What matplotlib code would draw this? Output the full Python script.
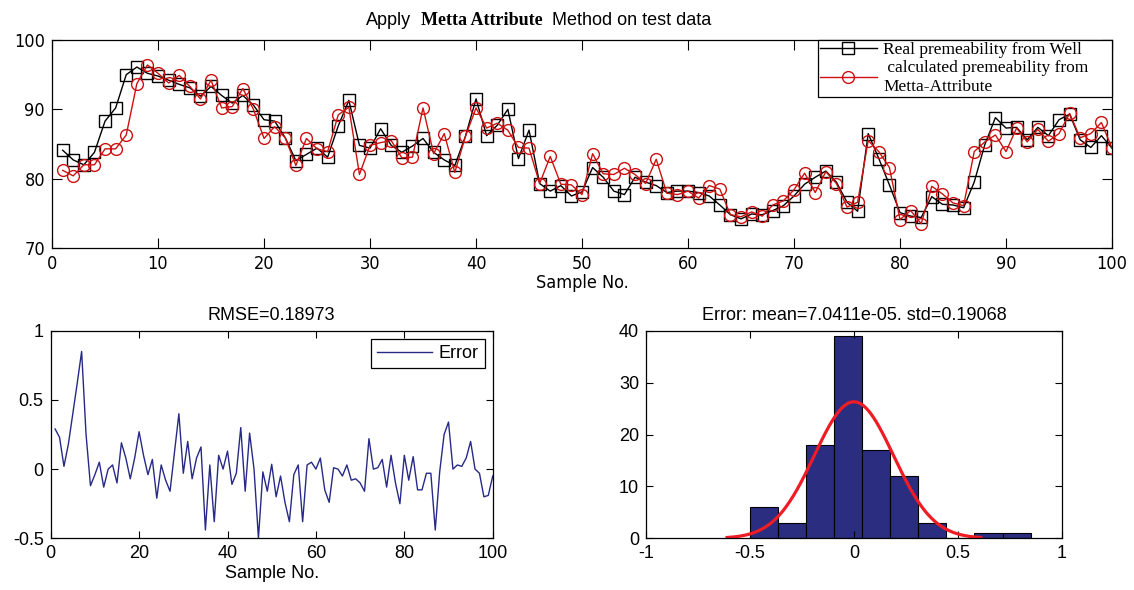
import numpy as np
import matplotlib.pyplot as plt
from matplotlib import font_manager

plt.rcParams['font.family'] = ['Liberation Sans', 'DejaVu Sans']
plt.rcParams['axes.unicode_minus'] = False
plt.rcParams['font.size'] = 13

# narrow sans for the upper panel's ticks and label, if one is installed
fonts = font_manager.fontManager.ttflist
names = {f.name for f in fonts}
if 'Liberation Sans Narrow' in names:
    narrow = dict(family='Liberation Sans Narrow')
elif any(f.name == 'DejaVu Sans' and f.stretch == 'condensed' for f in fonts):
    narrow = dict(family='DejaVu Sans', stretch='condensed')
else:
    narrow = dict(family='Liberation Sans')

# sample numbers 1..100
sample = np.arange(1, 101)

real_perm = [84.1, 82.7, 82.0, 83.8, 88.3, 90.2, 95.0, 96.1, 95.2, 94.8,
             94.2, 93.6, 93.1, 91.9, 93.3, 92.0, 90.9, 92.0, 90.6, 88.5,
             88.3, 85.9, 82.6, 83.5, 84.4, 83.1, 87.6, 91.3, 84.8, 84.4,
             87.2, 84.8, 83.8, 84.7, 85.8, 83.8, 82.7, 81.9, 86.1, 91.5,
             86.2, 87.7, 90.0, 82.9, 87.0, 79.3, 78.2, 79.0, 77.5, 78.1,
             81.6, 80.2, 78.2, 77.7, 80.2, 79.5, 79.0, 78.0, 78.2, 78.2,
             78.0, 77.5, 76.2, 74.8, 74.2, 74.9, 74.8, 75.4, 76.1, 77.5,
             79.2, 80.2, 81.1, 79.5, 76.6, 75.3, 86.5, 82.9, 79.1, 75.1,
             74.6, 74.4, 77.4, 76.3, 76.2, 75.8, 79.5, 84.9, 88.8, 87.3,
             87.4, 85.6, 87.4, 86.2, 88.5, 89.3, 85.6, 84.5, 86.2, 84.4]

calc_perm = [81.2, 80.4, 82.0, 82.0, 84.3, 84.3, 86.3, 93.7, 96.4, 95.2,
             93.8, 94.9, 93.3, 91.5, 94.2, 90.2, 90.4, 93.0, 90.0, 85.8,
             87.5, 85.9, 81.9, 85.8, 84.3, 83.9, 89.2, 90.3, 80.6, 84.8,
             85.2, 85.5, 83.0, 83.1, 90.2, 83.6, 86.5, 80.9, 86.1, 90.2,
             87.3, 88.0, 87.0, 84.5, 84.4, 79.3, 83.2, 79.2, 79.1, 77.7,
             83.6, 80.7, 80.6, 81.5, 80.6, 79.3, 82.8, 77.9, 77.7, 78.2,
             77.2, 79.0, 78.5, 74.8, 74.5, 75.2, 74.6, 76.2, 76.8, 78.4,
             80.8, 78.0, 81.0, 79.3, 75.9, 76.6, 85.5, 83.9, 81.6, 74.1,
             75.4, 73.5, 78.9, 77.8, 76.5, 76.1, 83.9, 85.3, 86.3, 83.9,
             87.3, 85.3, 87.1, 85.4, 86.5, 89.4, 85.9, 86.5, 88.1, 84.4]

error = [0.29, 0.23, 0.02, 0.18, 0.40, 0.62, 0.85, 0.25, -0.12, -0.04,
         0.05, -0.13, 0.00, 0.03, -0.10, 0.19, 0.08, -0.07, 0.08, 0.27,
         0.10, -0.04, 0.07, -0.21, 0.03, -0.08, -0.16, 0.12, 0.40, -0.03,
         0.20, -0.07, 0.08, 0.16, -0.44, 0.03, -0.38, 0.10, 0.00, 0.13,
         -0.11, -0.03, 0.30, -0.16, 0.26, 0.00, -0.50, -0.02, -0.16, 0.035,
         -0.20, -0.05, -0.24, -0.38, -0.04, 0.03, -0.38, 0.03, 0.05, 0.00,
         0.08, -0.15, -0.24, 0.01, 0.00, -0.05, 0.03, -0.08, -0.07, -0.10,
         -0.16, 0.22, 0.00, 0.01, 0.07, -0.13, 0.10, -0.10, -0.25, 0.10,
         -0.08, 0.09, -0.15, -0.15, -0.03, -0.03, -0.44, -0.02, 0.25, 0.34,
         0.00, 0.03, 0.02, 0.08, 0.20, 0.00, -0.03, -0.20, -0.19, -0.05]

err_mean = 7.0411e-05
err_std = 0.19068
rmse = 0.18973
fit_peak = 26.3   # height of the fitted normal curve

fig = plt.figure(figsize=(11.34, 5.9), dpi=100)
ax1 = fig.add_axes([0.0459, 0.5797, 0.9347, 0.3525])
ax2 = fig.add_axes([0.0447, 0.0876, 0.3898, 0.3519])
ax3 = fig.add_axes([0.5697, 0.0876, 0.3666, 0.3519])

for ax in (ax1, ax2, ax3):
    ax.tick_params(direction='in', top=True, right=True, length=5, width=0.8, pad=5)
    for s in ax.spines.values():
        s.set_linewidth(0.9)

# top: real vs calculated permeability
ax1.plot(sample, real_perm, 'k-', marker='s', ms=8, mfc='none', mec='k', lw=1,
         label='Real premeability from Well')
ax1.plot(sample, calc_perm, '-', color='#cc1111', marker='o', ms=8.5, mfc='none',
         mec='#cc1111', lw=1, label=' calculated premeability from     \nMetta-Attribute')
ax1.set_xlim(0, 100)
ax1.set_ylim(70, 100)
ax1.set_xticks(np.arange(0, 101, 10))
ax1.set_yticks([70, 80, 90, 100])
ax1.tick_params(length=7)
for lab in ax1.get_xticklabels() + ax1.get_yticklabels():
    lab.set(**narrow)
ax1.set_xlabel('Sample No.', labelpad=1, **narrow)
leg = ax1.legend(loc='upper right', bbox_to_anchor=(1.0, 1.0), borderaxespad=0,
                 prop={'family': 'Liberation Serif', 'size': 12.5}, fancybox=False,
                 edgecolor='k', framealpha=1, handlelength=3.3, labelspacing=0.1,
                 borderpad=0.1, handletextpad=0.35)
for t in leg.get_texts():
    t.set_linespacing(1.3)
leg.get_frame().set_linewidth(0.9)

# title with bold serif middle part
t1 = ax1.text(0.296, 1.07, 'Apply', transform=ax1.transAxes, fontsize=13, va='baseline')
t2 = ax1.annotate('Metta Attribute', xy=(1, 0), xycoords=t1, xytext=(7, 0),
                  textcoords='offset points', fontsize=13, fontweight='bold',
                  family='Liberation Serif', va='bottom')
ax1.annotate('Method on test data', xy=(1, 0), xycoords=t2, xytext=(7, 0),
             textcoords='offset points', fontsize=13, va='bottom')

# bottom left: error curve
ax2.plot(sample, error, color='#262a86', lw=1, label='Error')
ax2.set_xlim(0, 100)
ax2.set_ylim(-0.5, 1)
ax2.set_xticks([0, 20, 40, 60, 80, 100])
ax2.set_yticks([-0.5, 0, 0.5, 1])
ax2.set_yticklabels(['-0.5', '0', '0.5', '1'])
ax2.set_xlabel('Sample No.', labelpad=2)
ax2.set_title('RMSE=%.5f' % rmse, fontsize=13, pad=8)
leg2 = ax2.legend(loc='upper right', fancybox=False, edgecolor='k', framealpha=1,
                  handlelength=3.05, handletextpad=0.35, borderaxespad=0.45,
                  borderpad=0.35, fontsize=13)
leg2.get_frame().set_linewidth(0.9)

# bottom right: error histogram with normal fit
ax3.hist(error, bins=10, color='#2a2d80', edgecolor='k', linewidth=0.8)
xf = np.linspace(err_mean - 3.2 * err_std, err_mean + 3.2 * err_std, 200)
yf = fit_peak * np.exp(-0.5 * ((xf - err_mean) / err_std) ** 2)
ax3.plot(xf, yf, color='#ee1c24', lw=2.3)
ax3.set_xlim(-1, 1)
ax3.set_ylim(0, 40)
ax3.set_xticks([-1, -0.5, 0, 0.5, 1])
ax3.set_xticklabels(['-1', '-0.5', '0', '0.5', '1'])
ax3.set_yticks([0, 10, 20, 30, 40])
ax3.set_title('Error: mean=7.0411e-05. std=0.19068', fontsize=13, pad=8)

fig.savefig('out.png', dpi=100)
